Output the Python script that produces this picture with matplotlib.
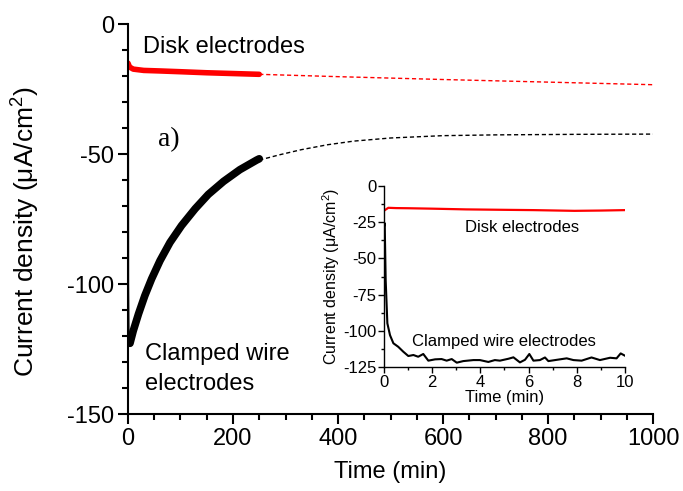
import matplotlib
matplotlib.use("Agg")
import matplotlib.pyplot as plt
from matplotlib.ticker import MultipleLocator

plt.rcParams['font.family'] = ['Liberation Sans', 'DejaVu Sans']
plt.rcParams['mathtext.fontset'] = 'custom'
plt.rcParams['mathtext.rm'] = 'Liberation Sans'
plt.rcParams['mathtext.it'] = 'Liberation Sans:italic'
plt.rcParams['mathtext.default'] = 'regular'
plt.rcParams['axes.unicode_minus'] = False

# ---- main panel data (time in min, current density in uA/cm2) ----
disk_t = [0, 3, 10, 30, 60, 100, 150, 200, 250]
disk_v = [-15, -16.5, -17.3, -17.8, -18.0, -18.3, -18.7, -19.0, -19.3]
disk_fit_t = [250, 400, 600, 800, 1000]
disk_fit_v = [-19.3, -20.2, -21.3, -22.3, -23.3]

wire_t = [0, 0.3, 1, 2, 3.8, 10, 20, 32, 45, 61, 80, 102, 128, 153,
          182, 213, 245, 250]
wire_v = [-26, -100, -117, -121, -122.8, -118, -111.5, -104.5, -98, -91,
          -84, -77.5, -71, -65.5, -60.5, -56, -52.3, -51.8]
wire_fit_t = [250, 290, 330, 380, 430, 500, 600, 700, 850, 1000]
wire_fit_v = [-52.3, -50.2, -48.3, -46.4, -45.0, -43.8, -42.9, -42.6, -42.4, -42.3]

# ---- inset data (first 10 min) ----
in_disk_t = [0, 0.18, 0.5, 1, 2, 3.4, 5, 6.2, 7.9, 9, 10]
in_disk_v = [-17, -15, -15.2, -15.3, -15.6, -16.1, -16.4, -16.6, -17.1, -16.9, -16.6]
in_wire_t = [0, 0.03, 0.07, 0.14, 0.25, 0.39, 0.59, 0.80, 1.01, 1.22, 1.42,
             1.63, 1.84, 2.12, 2.39, 2.6, 2.81, 3.02, 3.29, 3.71, 3.98, 4.33,
             4.6, 4.81, 5.16, 5.37, 5.64, 5.85, 6.03, 6.2, 6.47, 6.68, 6.82,
             7.3, 7.58, 7.86, 8.2, 8.61, 8.96, 9.38, 9.65, 9.82, 10]
in_wire_v = [-28, -25.6, -64.9, -94.8, -103, -108.6, -111, -114.4, -117.4,
             -116.7, -117.9, -116, -120.6, -119.7, -119.5, -120.6, -119.5,
             -122, -120.9, -120.2, -120.2, -121.5, -120.2, -120.6, -119.3,
             -118.3, -121.8, -120, -116, -120.6, -120.2, -118.4, -120.9,
             -119.7, -119, -120.2, -120.6, -118.4, -120.2, -118.6, -119,
             -115.6, -117.2]

main_xticks = [0, 200, 400, 600, 800, 1000]
main_yticks = [-150, -100, -50, 0]
inset_xticks = [0, 2, 4, 6, 8, 10]
inset_yticks = [-125, -100, -75, -50, -25, 0]

fig = plt.figure(figsize=(6.83, 4.91), dpi=100)
ax = fig.add_axes([0.1874, 0.1568, 0.7687, 0.794])

ax.plot(disk_fit_t, disk_fit_v, color='red', lw=1.0, ls=(0, (3, 2)))
ax.plot(wire_fit_t, wire_fit_v, color='black', lw=1.0, ls=(0, (3, 2)))
ax.plot(disk_t, disk_v, color='red', lw=4.0, solid_capstyle='round')
ax.plot(wire_t[:5], wire_v[:5], color='black', lw=1.5)
ax.plot(wire_t[3:], wire_v[3:], color='black', lw=5.5,
        solid_capstyle='round', solid_joinstyle='round')

ax.set_xlim(0, 1000)
ax.set_ylim(-150, 0)
ax.set_xticks(main_xticks)
ax.set_yticks(main_yticks)
ax.xaxis.set_minor_locator(MultipleLocator(50))
ax.yaxis.set_minor_locator(MultipleLocator(10))
for s in ['top', 'right']:
    ax.spines[s].set_visible(False)
for s in ['left', 'bottom']:
    ax.spines[s].set_linewidth(1.5)
ax.tick_params(which='major', direction='out', length=7, width=1.5, labelsize=17, pad=3)
ax.tick_params(which='minor', direction='out', length=4.5, width=1.5)
ax.set_xlabel('Time (min)', fontsize=17, labelpad=8)
ax.set_ylabel('Current density (μA/cm$^2$)', fontsize=19)
ax.yaxis.set_label_coords(-0.1638, 0.468)

ax.text(28.6, -11.2, 'Disk electrodes', fontsize=17, va='baseline', ha='left')
ax.text(57, -47, 'a)', fontsize=20, family='Liberation Serif', va='baseline', ha='left')
ax.text(32, -129.2, 'Clamped wire', fontsize=17, va='baseline', ha='left')
ax.text(32, -140.8, 'electrodes', fontsize=17, va='baseline', ha='left')

# ---- inset ----
ins = fig.add_axes([0.5622, 0.2525, 0.3529, 0.3685])
ins.set_facecolor('none')
ins.plot(in_disk_t, in_disk_v, color='red', lw=1.6)
ins.plot(in_wire_t, in_wire_v, color='black', lw=1.5)
ins.set_xlim(0, 10)
ins.set_ylim(-125, 0)
ins.set_xticks(inset_xticks)
ins.set_yticks(inset_yticks)
ins.xaxis.set_minor_locator(MultipleLocator(1))
ins.yaxis.set_minor_locator(MultipleLocator(12.5))
for s in ['top', 'right']:
    ins.spines[s].set_visible(False)
for s in ['left', 'bottom']:
    ins.spines[s].set_linewidth(1.0)
ins.tick_params(which='major', direction='out', length=4, width=1.0, labelsize=12, pad=1.5)
ins.tick_params(which='minor', direction='out', length=2.5, width=1.0)
ins.set_xlabel('Time (min)', fontsize=12, labelpad=0)
ins.set_ylabel('Current density (μA/cm$^2$)', fontsize=11.5, labelpad=1)
ins.text(3.36, -31.8, 'Disk electrodes', fontsize=12, va='baseline', ha='left')
ins.text(1.16, -110.5, 'Clamped wire electrodes', fontsize=12, va='baseline', ha='left')

fig.savefig('out.png', dpi=100)
